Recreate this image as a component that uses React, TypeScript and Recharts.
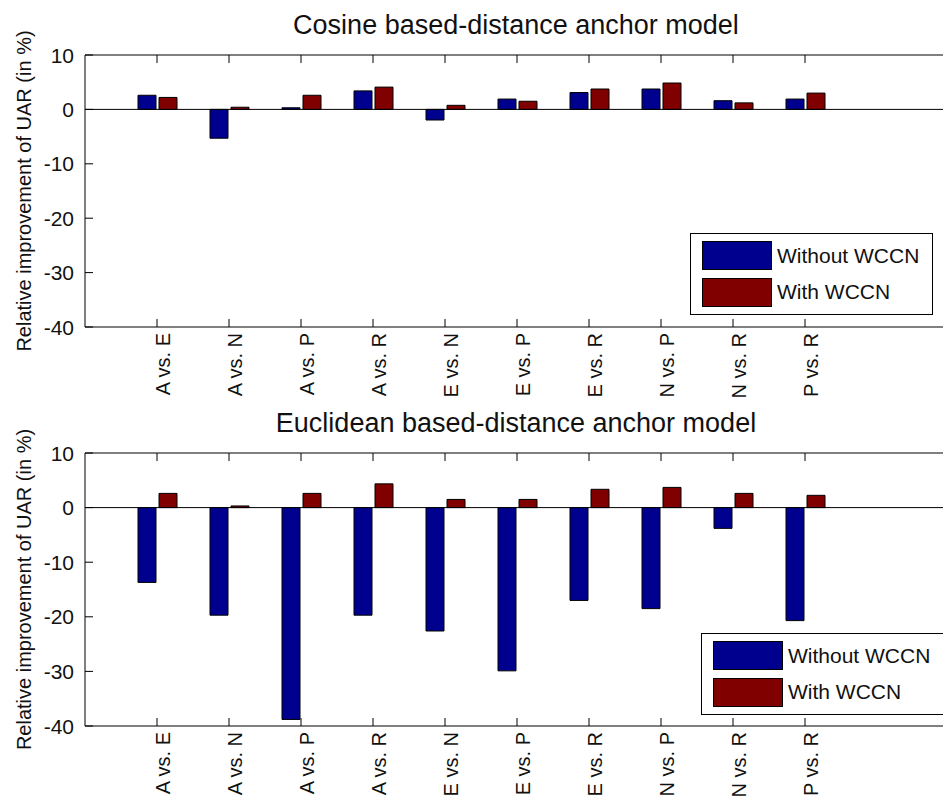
import React from 'react'
import { Bar, BarChart, ReferenceLine, XAxis, YAxis } from 'recharts'

const categories = ['A vs. E', 'A vs. N', 'A vs. P', 'A vs. R', 'E vs. N', 'E vs. P', 'E vs. R', 'N vs. P', 'N vs. R', 'P vs. R']

const cosineWithout = [2.6, -5.3, 0.3, 3.4, -1.95, 1.9, 3.1, 3.75, 1.6, 1.9]
const cosineWith = [2.2, 0.4, 2.6, 4.1, 0.75, 1.5, 3.75, 4.85, 1.2, 3.0]

const euclidWithout = [-13.7, -19.7, -38.8, -19.7, -22.6, -29.9, -17.0, -18.5, -3.8, -20.7]
const euclidWith = [2.6, 0.3, 2.6, 4.35, 1.5, 1.5, 3.35, 3.7, 2.6, 2.25]

const yTicks = [10, 0, -10, -20, -30, -40]

const SERIES = [
  { key: 'without', label: 'Without WCCN', color: '#00008f' },
  { key: 'with', label: 'With WCCN', color: '#800000' },
]

const FONT = '"Liberation Sans", Arial, Helvetica, sans-serif'

function buildRows(without: number[], withW: number[]) {
  return categories.map((name, i) => ({ name, without: without[i], with: withW[i] }))
}

function YTick(props: any) {
  const { x, y, payload } = props
  return (
    <g>
      <line x1={x} x2={x + 8} y1={y} y2={y} stroke="#000" />
      <text x={x - 11} y={y} textAnchor="end" dominantBaseline="central" fontSize={21} fontFamily={FONT} fill="#111">
        {payload.value}
      </text>
    </g>
  )
}

function makeXTick(plotH: number) {
  return function XTick(props: any) {
    const { x, y, payload } = props
    return (
      <g>
        <line x1={x} x2={x} y1={y - 8} y2={y} stroke="#000" />
        <line x1={x} x2={x} y1={y - plotH} y2={y - plotH + 8} stroke="#000" />
        <text
          transform={`translate(${x + 13},${y + 6}) rotate(-90)`}
          textAnchor="end"
          fontSize={20}
          fontFamily={FONT}
          fill="#111"
        >
          {payload.value}
        </text>
      </g>
    )
  }
}

function LegendBox({ left, top }: { left: number; top: number }) {
  return (
    <div
      style={{
        position: 'absolute',
        left,
        top,
        width: 241,
        height: 80,
        border: '1px solid #000',
        background: '#fff',
        fontFamily: FONT,
        fontSize: 21,
      }}
    >
      {SERIES.map((s, i) => (
        <div key={s.key} style={{ position: 'absolute', left: 11, top: 7 + i * 36.5, display: 'flex', alignItems: 'center' }}>
          <div style={{ width: 68, height: 27, background: s.color, border: '1px solid #000' }} />
          <span style={{ marginLeft: 5, color: '#111' }}>{s.label}</span>
        </div>
      ))}
    </div>
  )
}

function Panel({
  top,
  title,
  rows,
  marginTop,
  marginBottom,
  legendLeft,
}: {
  top: number
  title: string
  rows: any[]
  marginTop: number
  marginBottom: number
  legendLeft: number
}) {
  const plotH = 400 - marginTop - marginBottom
  const XTick = makeXTick(plotH)
  const mid = marginTop + plotH / 2
  return (
    <div style={{ position: 'absolute', left: 0, top, width: 960, height: 400 }}>
      <BarChart
        width={960}
        height={400}
        data={rows}
        margin={{ top: marginTop, right: 11, bottom: marginBottom - 70, left: 0 }}
        barGap={3}
      >
        <XAxis
          dataKey="name"
          interval={0}
          padding={{ left: 36, right: 108 }}
          height={70}
          tickSize={0}
          tickMargin={0}
          tickLine={false}
          axisLine={{ stroke: '#000' }}
          tick={XTick}
        />
        <YAxis
          type="number"
          domain={[-40, 10]}
          ticks={yTicks}
          width={85}
          tickSize={0}
          tickMargin={0}
          tickLine={false}
          axisLine={{ stroke: '#000' }}
          tick={YTick}
          allowDataOverflow
        />
        <ReferenceLine y={10} stroke="#000" />
        {SERIES.map((s) => (
          <Bar key={s.key} dataKey={s.key} fill={s.color} stroke="#000" strokeWidth={1} barSize={18} isAnimationActive={false} />
        ))}
        <ReferenceLine y={0} stroke="#000" />
      </BarChart>
      <svg width={960} height={400} style={{ position: 'absolute', left: 0, top: 0, pointerEvents: 'none' }}>
        <text x={516} y={marginTop - 21} textAnchor="middle" fontSize={27} fontFamily={FONT} fill="#111">
          {title}
        </text>
        <text
          transform={`translate(31,${mid}) rotate(-90)`}
          textAnchor="middle"
          fontSize={20}
          fontFamily={FONT}
          fill="#111"
        >
          Relative improvement of UAR (in %)
        </text>
      </svg>
      <LegendBox left={legendLeft} top={233} />
    </div>
  )
}

export default function App() {
  return (
    <div
      style={{
        position: 'absolute',
        left: 0,
        top: 0,
        width: 943,
        height: 800,
        overflow: 'hidden',
        background: '#fff',
      }}
    >
      <Panel
        top={0}
        title="Cosine based-distance anchor model"
        rows={buildRows(cosineWithout, cosineWith)}
        marginTop={55}
        marginBottom={73}
        legendLeft={690}
      />
      <Panel
        top={400}
        title="Euclidean based-distance anchor model"
        rows={buildRows(euclidWithout, euclidWith)}
        marginTop={53}
        marginBottom={74}
        legendLeft={701}
      />
    </div>
  )
}
